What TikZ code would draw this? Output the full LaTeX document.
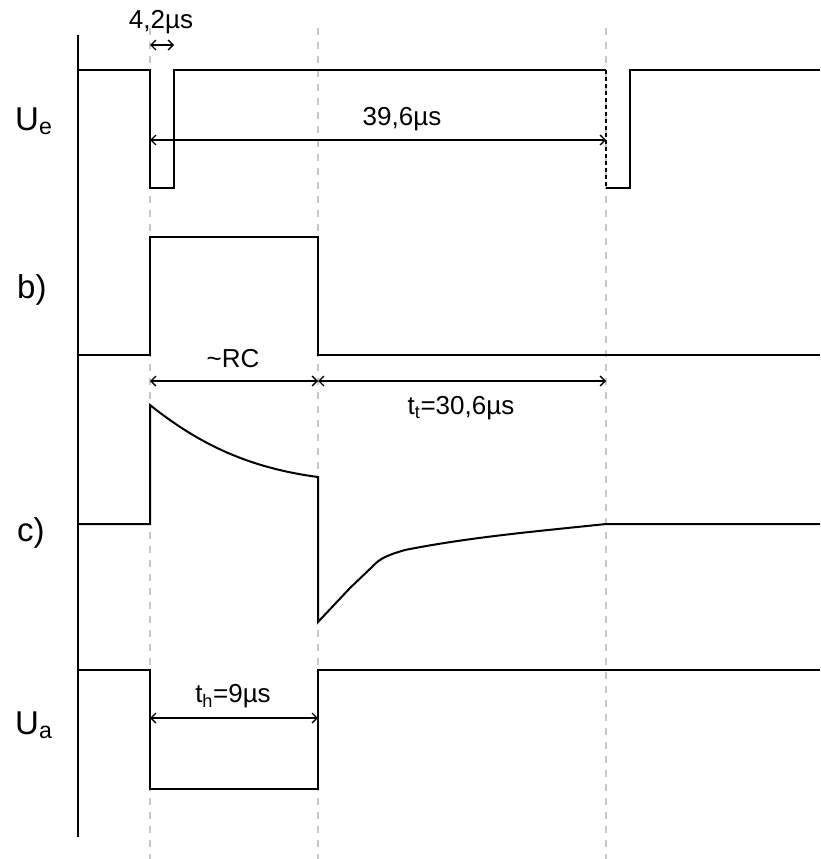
\documentclass[tikz,border=0pt]{standalone}
\usepackage{fontspec}
\setmainfont{Liberation Sans}
\usetikzlibrary{arrows.meta}
\tikzset{
  sig/.style={line width=2pt, line join=miter, black},
  axisline/.style={line width=2pt, black},
  guide/.style={line width=1.6pt, draw=black!22, dash pattern=on 7pt off 7pt},
  dim/.style={line width=1.3pt, {Straight Barb[length=5pt,width=10pt]}-{Straight Barb[length=5pt,width=10pt]}},
  dimtext/.style={font=\fontsize{26}{30}\selectfont, inner sep=0pt},
  rowlabel/.style={font=\fontsize{33}{38}\selectfont, inner sep=0pt, anchor=west}
}
\begin{document}
\begin{tikzpicture}[x=1pt,y=-1pt]
\useasboundingbox (0,0) rectangle (820,859);
% guide lines
\coordinate (g1t) at (150,28); \coordinate (g1b) at (150,859);
\coordinate (g2t) at (318,28); \coordinate (g2b) at (318,859);
\coordinate (g3t) at (606,28); \coordinate (g3b) at (606,859);
\draw[guide] (g1t) -- (g1b);
\draw[guide] (g2t) -- (g2b);
\draw[guide] (g3t) -- (g3b);
% axis
\coordinate (axt) at (78,35); \coordinate (axb) at (78,837);
\draw[axisline] (axt) -- (axb);
% Ue
\draw[sig] (78,70) -- (150,70) -- (150,188) -- (174,188) -- (174,70) -- (606,70);
\draw[sig, dash pattern=on 4pt off 3pt] (606,70) -- (606,188);
\draw[sig] (606,188) -- (630,188) -- (630,70) -- (820,70);
% b
\draw[sig] (78,355) -- (150,355) -- (150,237) -- (318,237) -- (318,355) -- (820,355);
% c
\draw[sig] (78,524) -- (150,524) -- (150,405)
  .. controls (200,445) and (250,468) .. (318,477)
  -- (318,622) -- (350,588) -- (372,567)
  .. controls (380,558) and (388,555) .. (405,550)
  .. controls (470,537) and (540,531) .. (606,524) -- (820,524);
% Ua
\draw[sig] (78,670) -- (150,670) -- (150,789) -- (318,789) -- (318,670) -- (820,670);
% dimension arrows
\coordinate (a1l) at (150,45); \coordinate (a1r) at (174,45);
\draw[dim] (a1l) -- (a1r);
\node[dimtext] (t1) at (161,22) {4,2µs};
\coordinate (a2l) at (150,140); \coordinate (a2r) at (606,140);
\draw[dim] (a2l) -- (a2r);
\node[dimtext] (t2) at (402,119) {39,6µs};
\coordinate (a3l) at (150,381); \coordinate (a3m) at (318,381); \coordinate (a3r) at (606,381);
\draw[dim] (a3l) -- (a3m);
\draw[dim] (a3m) -- (a3r);
\node[dimtext] (t3) at (233,359) {\textasciitilde RC};
\node[dimtext] (t4) at (461,408) {t\textsubscript{t}=30,6µs};
\coordinate (a5l) at (150,718); \coordinate (a5r) at (318,718);
\draw[dim] (a5l) -- (a5r);
\node[dimtext] (t5) at (233,696) {t\textsubscript{h}=9µs};
% row labels
\node[rowlabel] (lUe) at (15,121) {U\textsubscript{e}};
\node[rowlabel] (lb) at (17,290) {b)};
\node[rowlabel] (lc) at (17,533) {c)};
\node[rowlabel] (lUa) at (15,725) {U\textsubscript{a}};
\end{tikzpicture}
\end{document}
